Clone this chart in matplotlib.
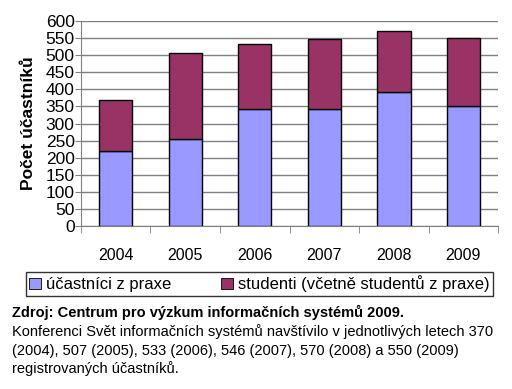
import numpy as np
import matplotlib
matplotlib.use('Agg')
import matplotlib.pyplot as plt
from matplotlib.patches import Patch

plt.rcParams['font.family'] = ['Liberation Sans', 'DejaVu Sans']

# ---------- data ----------
years = ['2004', '2005', '2006', '2007', '2008', '2009']
totals = [370, 507, 533, 546, 570, 550]
praxe = [220, 255, 343, 343, 393, 352]
studenti = [t - p for t, p in zip(totals, praxe)]
yticks = list(range(0, 601, 50))

c_praxe = '#9999FF'
c_stud = '#993366'

fig = plt.figure(figsize=(5.12, 3.89), dpi=100)
ax = fig.add_axes([0.158, 0.419, 0.815, 0.527])

x = np.arange(len(years))
ax.bar(x, praxe, 0.48, color=c_praxe, edgecolor='black', linewidth=1.0, zorder=3)
ax.bar(x, studenti, 0.48, bottom=praxe, color=c_stud, edgecolor='black', linewidth=1.0, zorder=3)

ax.set_xlim(-0.5, len(years) - 0.5)
ax.set_ylim(0, 600)
ax.set_yticks(yticks)
ax.tick_params(axis='y', labelsize=12.5, length=4, pad=0.5, color='#808080')
ax.set_xticks(x)
ax.set_xticklabels(years)
ax.tick_params(axis='x', which='major', length=0, labelsize=11.5, pad=16)
ax.set_xticks(np.arange(-0.5, len(years)), minor=True)
ax.tick_params(axis='x', which='minor', length=5, color='#808080')
ax.yaxis.grid(True, color='#808080', linewidth=1.0, zorder=0)
ax.set_axisbelow(True)
for s in ['top', 'right']:
    ax.spines[s].set_visible(False)
for s in ['left', 'bottom']:
    ax.spines[s].set_color('#808080')
ax.set_ylabel('Počet účastníků', fontsize=12.5, fontweight='bold', labelpad=7)

handles = [Patch(facecolor=c_praxe, edgecolor='black', linewidth=0.6),
           Patch(facecolor=c_stud, edgecolor='black', linewidth=0.6)]
leg = fig.legend(handles, ['účastníci z praxe', 'studenti (včetně studentů z praxe)'],
                 ncol=2, loc='center', bbox_to_anchor=(0.507, 0.27), fontsize=12,
                 frameon=True, fancybox=False, edgecolor='black', handlelength=0.7,
                 handleheight=0.7, handletextpad=0.3, columnspacing=3.0,
                 borderpad=0.2)
leg.get_frame().set_linewidth(1.0)

fig.text(0.024, 1 - 312 / 389, 'Zdroj: Centrum pro výzkum informačních systémů 2009.',
         fontsize=10.5, fontweight='bold', va='center')
lines = ['Konferenci Svět informačních systémů navštívilo v jednotlivých letech 370',
         '(2004), 507 (2005), 533 (2006), 546 (2007), 570 (2008) a 550 (2009)',
         'registrovaných účastníků.']
for i, t in enumerate(lines):
    fig.text(0.024, 1 - (332 + 18.5 * i) / 389, t, fontsize=10.5, va='center')

fig.savefig('out.png', dpi=100)
